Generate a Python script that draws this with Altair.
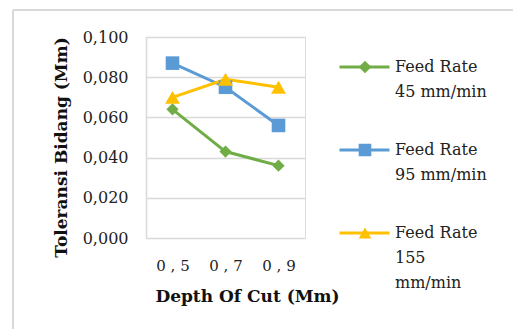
import altair as alt
import pandas as pd

# Depth of cut (mm) and measured flatness tolerance for each feed rate
depth = [0.5, 0.7, 0.9]
series = ["Feed Rate|45 mm/min", "Feed Rate|95 mm/min", "Feed Rate|155|mm/min"]
tol_45 = [0.064, 0.043, 0.036]
tol_95 = [0.087, 0.075, 0.056]
tol_155 = [0.070, 0.079, 0.075]
colors = ["#70AD47", "#5B9BD5", "#FFC000"]
shapes = ["diamond", "square", "triangle-up"]
marker_sizes = [150, 220, 240]

rows = []
for name, vals in zip(series, [tol_45, tol_95, tol_155]):
    for d, v in zip(depth, vals):
        rows.append({"depth": d, "series": name, "tol": v})
df = pd.DataFrame(rows)

FONT = "DejaVu Serif"

x = alt.X(
    "depth:O",
    title="Depth Of Cut (Mm)",
    scale=alt.Scale(padding=0.5),
    axis=alt.Axis(
        labelAngle=0,
        labelExpr="replace(datum.label, '.', ' , ')",
        labelFont=FONT, labelFontSize=15, labelColor="#222",
        labelPadding=20, ticks=False, domain=False,
        titleFont=FONT, titleFontSize=17, titleFontWeight="bold", titleColor="#111",
        titleX=101, titleY=58, titleBaseline="middle",
    ),
)
y = alt.Y(
    "tol:Q",
    title="Toleransi Bidang (Mm)",
    scale=alt.Scale(domain=[0, 0.1]),
    axis=alt.Axis(
        values=[0, 0.02, 0.04, 0.06, 0.08, 0.1],
        labelExpr="replace(format(datum.value, '.3f'), '.', ',')",
        labelFont=FONT, labelFontSize=16, labelColor="#222", labelPadding=18,
        ticks=False, domainColor="#d9d9d9", domainWidth=1.5,
        gridColor="#d9d9d9", gridWidth=1.5,
        titleFont=FONT, titleFontSize=17, titleFontWeight="bold", titleColor="#111",
        titleX=-85, titleY=110, titleAngle=-90, titleAlign="center", titleBaseline="middle",
    ),
)
color_scale = alt.Scale(domain=series, range=colors)

legend_common = dict(
    title=None,
    orient="none",
    padding=0,
    clipHeight=50,
    labelFont=FONT,
    labelFontSize=16,
    labelColor="#222",
    labelBaseline="middle",
    labelExpr="split(datum.label, '|')",
    labelLimit=200,
    rowPadding=25,
)

# line part of each legend key
lines = alt.Chart(df).mark_line(strokeWidth=3).encode(
    x=x,
    y=y,
    color=alt.Color(
        "series:N",
        scale=color_scale,
        legend=alt.Legend(
            symbolType="stroke",
            symbolSize=2500,
            symbolStrokeWidth=3,
            labelOpacity=0,
            labelOffset=5,
            legendX=192,
            legendY=5,
            zindex=0,
            **legend_common,
        ),
    ),
)

# markers, with their legend drawn on top of the line keys
marker_legend = alt.Legend(
    symbolSize=160,
    symbolStrokeWidth=0,
    symbolOpacity=1,
    labelOffset=22,
    legendX=211,
    legendY=5,
    zindex=1,
    **legend_common,
)
points = alt.Chart(df).mark_point(filled=True, opacity=1).encode(
    x=x,
    y=y,
    shape=alt.Shape(
        "series:N", scale=alt.Scale(domain=series, range=shapes), legend=marker_legend
    ),
    color=alt.Color("series:N", scale=color_scale, legend=marker_legend),
    size=alt.Size(
        "series:N", scale=alt.Scale(domain=series, range=marker_sizes), legend=None
    ),
)

# light frame along the top and left of the figure
frame_left = alt.Chart(df).mark_rule(color="#d9d9d9", strokeWidth=2).encode(
    x=alt.value(-133), y=alt.value(-27), y2=alt.value(300)
)
frame_top = alt.Chart(df).mark_rule(color="#d9d9d9", strokeWidth=2).encode(
    x=alt.value(-133), x2=alt.value(380), y=alt.value(-27)
)

chart = (
    alt.layer(frame_left, frame_top, lines, points)
    .resolve_legend(color="independent", shape="independent")
    .properties(
        width=159,
        height=201,
        autosize=alt.AutoSizeParams(type="none"),
        padding={"left": 146, "top": 37, "right": 208, "bottom": 91},
        background="white",
    )
    .configure_view(stroke=None)
    .configure(style={"guide-label": {"lineHeight": 25}})
)

chart.save("out.html", embed_options={"renderer": "svg", "actions": False})
